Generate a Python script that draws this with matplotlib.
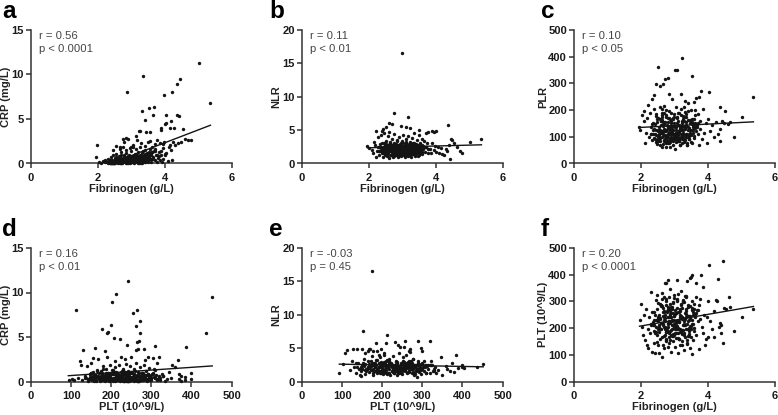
import matplotlib
matplotlib.use("Agg")
import matplotlib.pyplot as plt

plt.rcParams['font.family'] = ['Liberation Sans', 'DejaVu Sans']

# values, ten per row
a_x = [5.03, 3.35, 4.45, 4.37, 4.23, 2.88, 3.98, 5.37, 3.68, 3.52,
       3.33, 3.66, 4.37, 4.42, 4.03, 4.18, 3.4, 4.05, 4.0, 3.9,
       4.17, 4.28, 4.55, 3.9, 3.25, 3.22, 3.45, 3.55, 3.15, 2.75,
       2.85, 2.9, 3.55, 1.98, 1.95, 4.8, 4.7, 4.62, 4.48, 4.4,
       4.32, 4.25, 4.12, 4.2, 4.05, 3.95, 3.85, 3.78, 3.7, 3.62,
       3.5, 3.42, 3.3, 3.18, 3.05, 2.98, 2.78, 2.65, 2.55, 2.45,
       4.1, 4.22, 3.92, 3.88, 4.02, 3.98, 4.15, 3.82, 3.72, 3.95,
       2.02, 2.1, 2.15, 2.2, 2.22, 2.28, 2.3, 2.35, 2.38, 2.4,
       2.42, 2.45, 2.48, 2.5, 2.52, 2.55, 2.58, 2.6, 2.62, 2.65,
       2.68, 2.7, 2.72, 2.75, 2.78, 2.8, 2.82, 2.85, 2.88, 2.9,
       2.92, 2.95, 2.98, 3.0, 3.02, 3.05, 3.08, 3.1, 3.12, 3.15,
       3.18, 3.2, 3.22, 3.25, 3.28, 3.3, 3.32, 3.35, 3.38, 3.4,
       3.42, 3.45, 3.48, 3.5, 3.52, 3.55, 3.58, 3.6, 3.65, 3.7,
       2.5, 2.55, 2.6, 2.66, 2.7, 2.74, 2.8, 2.84, 2.9, 2.94,
       3.0, 3.04, 3.1, 3.14, 3.2, 3.24, 3.3, 3.34, 3.4, 3.44,
       2.36, 2.44, 2.52, 2.62, 2.72, 2.86, 2.96, 3.06, 3.16, 3.26,
       2.6, 2.7, 2.8, 2.9, 3.0, 3.1, 3.2, 3.3, 3.4, 3.5,
       2.65, 2.75, 2.85, 2.95, 3.05, 3.15, 3.25, 3.35, 3.45, 3.6,
       3.75, 3.8, 3.85, 3.9, 3.95, 4.0, 3.76, 3.82, 3.64, 3.56]
a_y = [11.3, 9.8, 9.5, 8.9, 8.0, 8.0, 7.7, 6.8, 6.4, 6.2,
       5.9, 5.5, 5.5, 5.3, 5.4, 4.8, 4.9, 4.5, 4.4, 4.0,
       4.0, 4.0, 3.9, 3.8, 3.7, 3.6, 3.5, 3.5, 3.1, 2.8,
       2.9, 2.7, 2.5, 2.1, 0.7, 2.6, 2.6, 2.7, 2.4, 2.3,
       2.1, 2.4, 1.8, 1.5, 1.2, 2.2, 2.3, 2.6, 2.2, 1.9,
       2.4, 2.0, 2.3, 2.6, 2.1, 1.8, 2.4, 1.9, 2.0, 1.5,
       0.3, 0.35, 0.2, 0.9, 1.1, 2.4, 2.1, 1.3, 1.6, 1.7,
       0.15, 0.1, 0.3, 0.2, 0.4, 0.15, 0.5, 0.25, 0.7, 0.1,
       0.4, 0.9, 0.2, 0.6, 0.3, 1.1, 0.15, 0.5, 0.8, 0.2,
       0.6, 1.3, 0.1, 0.4, 0.9, 0.2, 0.7, 1.2, 0.3, 0.5,
       1.0, 0.15, 0.6, 1.4, 0.3, 0.8, 0.1, 0.5, 1.1, 0.25,
       0.7, 1.3, 0.4, 0.9, 0.15, 0.6, 1.2, 0.3, 0.8, 1.5,
       0.2, 0.6, 1.0, 0.35, 1.3, 0.5, 0.9, 0.2, 0.7, 0.4,
       0.3, 0.7, 0.15, 0.45, 0.9, 0.25, 0.55, 0.1, 0.8, 0.35,
       0.6, 0.2, 0.4, 0.75, 0.1, 0.5, 0.3, 0.7, 0.2, 0.55,
       0.35, 0.15, 0.35, 0.3, 0.2, 0.35, 0.25, 0.35, 0.2, 0.45,
       0.1, 0.2, 0.3, 0.1, 0.2, 0.3, 0.2, 0.1, 0.35, 0.15,
       1.6, 1.8, 1.5, 1.7, 1.9, 1.6, 1.8, 1.4, 1.1, 1.2,
       1.0, 0.6, 0.4, 1.4, 0.5, 0.9, 0.2, 0.8, 0.5, 1.6]

b_x = [3.0, 2.75, 3.18, 4.38, 2.7, 2.95, 2.52, 2.42, 2.6, 3.22,
       2.22, 2.4, 2.6, 3.1, 3.5, 3.88, 4.0, 3.95, 3.78, 3.72,
       5.37, 5.03, 4.45, 4.5, 4.4, 4.55, 4.65, 4.72, 4.8, 4.42,
       2.0, 1.96, 2.08, 2.12, 2.15, 2.18, 2.2, 2.24, 2.26, 2.3,
       2.32, 2.35, 2.38, 2.4, 2.42, 2.44, 2.46, 2.5, 2.52, 2.54,
       2.56, 2.58, 2.6, 2.62, 2.64, 2.66, 2.68, 2.7, 2.72, 2.74,
       2.76, 2.78, 2.8, 2.82, 2.84, 2.86, 2.88, 2.9, 2.92, 2.94,
       2.96, 2.98, 3.0, 3.02, 3.04, 3.06, 3.08, 3.1, 3.12, 3.14,
       3.16, 3.18, 3.2, 3.22, 3.24, 3.26, 3.28, 3.3, 3.32, 3.34,
       3.36, 3.38, 3.4, 3.42, 3.44, 3.46, 3.48, 3.5, 3.52, 3.54,
       3.56, 3.58, 3.6, 3.62, 3.65, 3.68, 3.7, 3.74, 3.78, 3.82,
       3.86, 3.9, 3.94, 3.98, 4.02, 4.06, 4.1, 4.15, 4.2, 4.25,
       4.3, 4.35, 2.45, 2.55, 2.65, 2.75, 2.85, 2.95, 3.05, 3.15,
       3.25, 3.35, 3.45, 2.5, 2.6, 2.7, 2.8, 2.9, 3.0, 3.1,
       3.2, 3.3, 3.4, 2.48, 2.58, 2.68, 2.78, 2.88, 2.98, 3.08,
       3.18, 3.28, 3.38, 2.62, 2.72, 2.82, 2.92, 3.02, 3.12, 3.22,
       2.66, 2.76, 2.86, 2.96, 3.06, 3.16, 3.26, 3.36, 2.33, 2.28]
b_y = [16.6, 7.6, 7.0, 5.8, 5.9, 5.6, 5.4, 5.2, 6.0, 5.3,
       4.8, 4.9, 4.7, 5.4, 5.0, 4.8, 4.9, 4.7, 4.7, 4.5,
       3.6, 3.2, 3.6, 3.5, 2.7, 3.0, 2.5, 1.9, 1.6, 0.7,
       2.3, 2.6, 2.0, 1.5, 3.2, 2.8, 1.0, 1.9, 3.9, 1.3,
       2.5, 4.2, 1.7, 3.0, 0.9, 4.6, 2.2, 1.4, 3.4, 1.1,
       2.6, 4.1, 0.8, 1.9, 3.1, 1.3, 2.4, 3.7, 1.0, 2.0,
       4.4, 1.5, 2.8, 1.2, 3.5, 0.9, 2.2, 4.0, 1.6, 2.9,
       1.1, 3.3, 1.9, 4.3, 1.3, 2.5, 0.9, 3.6, 1.7, 2.8,
       1.2, 4.1, 2.1, 1.5, 3.2, 1.0, 2.6, 3.8, 1.4, 2.2,
       4.5, 1.2, 2.9, 1.7, 3.5, 1.1, 2.4, 4.2, 1.5, 3.0,
       1.9, 3.7, 1.4, 2.6, 3.3, 1.7, 2.4, 3.0, 1.6, 2.2,
       1.5, 3.1, 2.0, 2.6, 1.7, 2.4, 1.6, 2.3, 1.4, 1.2,
       2.1, 1.8, 2.2, 1.6, 2.0, 2.4, 1.7, 2.1, 1.5, 2.3,
       1.9, 1.6, 2.0, 2.8, 2.4, 2.7, 1.6, 2.2, 2.6, 1.8,
       2.9, 2.3, 2.6, 1.9, 1.6, 1.8, 2.1, 1.5, 1.9, 2.2,
       1.7, 2.0, 1.4, 3.0, 2.5, 2.9, 2.6, 2.2, 3.1, 2.7,
       2.2, 1.9, 2.4, 2.0, 2.3, 1.9, 2.3, 2.5, 2.9, 2.5]

c_x = [3.22, 2.52, 3.02, 3.08, 3.52, 2.82, 2.72, 2.45, 2.58, 2.66,
       3.8, 4.03, 5.37, 4.38, 4.52, 5.03, 4.8, 3.75, 3.2, 2.4,
       2.85, 2.92, 2.32, 2.2, 2.08, 2.02, 1.96, 1.98, 2.1, 2.15,
       2.12, 2.18, 2.24, 2.28, 2.3, 2.34, 2.36, 2.38, 2.42, 2.44,
       2.46, 2.48, 2.5, 2.54, 2.56, 2.58, 2.6, 2.62, 2.64, 2.66,
       2.68, 2.7, 2.72, 2.74, 2.76, 2.78, 2.8, 2.82, 2.84, 2.86,
       2.88, 2.9, 2.92, 2.94, 2.96, 2.98, 3.0, 3.02, 3.04, 3.06,
       3.08, 3.1, 3.12, 3.14, 3.16, 3.18, 3.2, 3.22, 3.24, 3.26,
       3.28, 3.3, 3.32, 3.34, 3.36, 3.38, 3.4, 3.42, 3.44, 3.46,
       3.48, 3.5, 3.52, 3.54, 3.56, 3.58, 3.6, 3.62, 3.64, 3.68,
       3.7, 3.74, 3.78, 3.82, 3.86, 3.9, 3.94, 3.98, 4.02, 4.08,
       4.14, 4.2, 4.26, 4.32, 4.38, 4.44, 4.5, 4.6, 4.66, 4.36,
       3.6, 3.66, 3.72, 3.62, 3.52, 3.42, 3.32, 2.62, 2.68, 2.64,
       2.7, 2.74, 2.78, 2.82, 2.86, 2.9, 2.94, 2.98, 3.02, 3.06,
       3.1, 3.14, 3.18, 3.22, 3.26, 3.3, 3.34, 2.76, 2.8, 2.84,
       2.88, 2.92, 2.96, 3.0, 3.04, 3.08, 3.12, 3.16, 3.2, 3.24,
       2.5, 2.54, 2.58, 2.62, 2.66, 2.7, 2.74, 2.78, 3.28, 3.32]
c_y = [397, 362, 351, 349, 328, 320, 318, 297, 292, 296,
       272, 268, 248, 212, 196, 173, 100, 68, 262, 256,
       262, 240, 240, 218, 195, 180, 135, 125, 160, 115,
       78, 170, 98, 190, 135, 88, 150, 205, 110, 185,
       80, 165, 125, 100, 210, 70, 145, 60, 175, 120,
       215, 88, 155, 62, 200, 105, 135, 75, 170, 60,
       115, 190, 95, 140, 68, 175, 110, 55, 210, 125,
       85, 160, 105, 190, 70, 130, 205, 90, 150, 115,
       80, 210, 135, 100, 175, 70, 125, 195, 90, 150,
       110, 200, 78, 165, 125, 230, 95, 180, 245, 135,
       110, 248, 160, 90, 205, 115, 150, 75, 165, 120,
       145, 100, 155, 110, 85, 160, 150, 148, 155, 130,
       140, 120, 185, 200, 148, 225, 235, 205, 190, 100,
       125, 95, 145, 110, 130, 90, 120, 150, 100, 135,
       115, 145, 95, 125, 105, 140, 110, 120, 105, 130,
       95, 110, 125, 100, 140, 115, 95, 125, 110, 135,
       85, 135, 95, 120, 140, 105, 125, 85, 160, 140]

d_x = [243, 452, 213, 203, 255, 113, 264, 272, 200, 262,
       178, 192, 190, 437, 207, 221, 273, 270, 265, 160,
       386, 130, 185, 240, 310, 283, 268, 262, 305, 293,
       366, 352, 122, 125, 140, 155, 150, 168, 190, 210,
       225, 235, 250, 285, 320, 315, 345, 360, 370, 375,
       385, 400, 398, 384, 375, 368, 350, 340, 335, 330,
       102, 108, 95, 118, 128, 135, 142, 146, 148, 152,
       155, 158, 160, 163, 165, 168, 170, 172, 175, 178,
       180, 182, 185, 188, 190, 192, 195, 198, 200, 202,
       205, 208, 210, 212, 215, 218, 220, 222, 225, 228,
       230, 232, 235, 238, 240, 242, 245, 248, 250, 252,
       255, 258, 260, 262, 265, 268, 270, 272, 275, 278,
       280, 282, 285, 288, 290, 292, 295, 298, 300, 303,
       306, 310, 314, 318, 322, 170, 180, 190, 200, 210,
       220, 230, 240, 250, 260, 270, 280, 175, 185, 195,
       205, 215, 225, 235, 245, 255, 265, 275, 285, 295,
       160, 150, 145, 215, 228, 242, 256, 268, 280, 296,
       198, 208, 218, 232, 238, 248, 258, 176, 186, 300]
d_y = [11.3, 9.5, 9.8, 8.9, 7.7, 8.0, 8.0, 6.8, 6.4, 6.2,
       5.9, 5.6, 5.5, 5.4, 4.9, 4.8, 5.4, 4.6, 4.4, 3.8,
       3.9, 3.5, 3.4, 4.1, 4.0, 3.7, 3.6, 3.5, 2.6, 2.8,
       2.4, 1.9, 2.3, 1.9, 1.7, 2.6, 2.1, 2.5, 2.7, 2.3,
       2.8, 2.5, 2.7, 2.4, 2.7, 2.1, 1.1, 1.6, 0.8, 0.6,
       0.5, 0.9, 0.25, 0.15, 0.1, 0.3, 0.4, 0.3, 0.1, 0.6,
       0.3, 0.15, 0.2, 0.4, 0.2, 0.6, 0.3, 0.8, 0.5, 0.15,
       1.1, 0.4, 0.7, 0.2, 1.3, 0.5, 0.9, 0.1, 1.2, 0.4,
       1.7, 0.2, 0.7, 1.4, 0.3, 1.0, 0.5, 1.9, 0.2, 0.8,
       1.3, 0.4, 1.6, 0.15, 0.9, 0.5, 1.8, 0.3, 1.1, 0.6,
       1.4, 0.2, 0.8, 2.0, 0.4, 1.2, 0.6, 1.7, 0.15, 0.9,
       0.5, 1.4, 0.25, 2.1, 0.7, 1.1, 0.3, 1.6, 0.5, 0.9,
       0.2, 1.9, 0.6, 1.2, 0.3, 0.8, 1.5, 0.4, 0.15, 0.9,
       0.5, 1.3, 0.3, 0.6, 0.2, 0.3, 0.15, 0.4, 0.25, 0.1,
       0.35, 0.2, 0.45, 0.15, 0.3, 0.1, 0.4, 0.6, 0.5, 0.7,
       0.4, 0.6, 0.7, 0.5, 0.65, 0.4, 0.6, 0.5, 0.7, 0.3,
       0.45, 0.9, 0.25, 1.0, 0.9, 1.0, 0.85, 0.6, 0.8, 0.15,
       1.0, 0.9, 0.75, 0.85, 0.2, 1.0, 0.1, 0.85, 0.95, 0.4]

e_x = [175, 153, 212, 256, 290, 318, 232, 240, 185, 210,
       255, 296, 300, 270, 245, 268, 166, 150, 385, 347,
       452, 437, 400, 398, 388, 375, 368, 360, 350, 340,
       335, 325, 92, 102, 108, 112, 128, 138, 148, 150,
       158, 165, 170, 178, 187, 192, 198, 205, 120, 125,
       130, 135, 140, 145, 150, 154, 158, 162, 165, 168,
       172, 175, 178, 180, 183, 186, 188, 191, 194, 197,
       199, 202, 205, 207, 210, 213, 215, 218, 220, 223,
       225, 228, 230, 233, 235, 238, 240, 243, 245, 248,
       250, 253, 255, 258, 260, 263, 265, 268, 270, 273,
       275, 278, 280, 283, 285, 288, 290, 293, 295, 298,
       300, 303, 306, 310, 314, 318, 322, 328, 332, 200,
       208, 216, 224, 232, 240, 248, 256, 264, 272, 280,
       204, 212, 220, 228, 236, 244, 252, 260, 268, 276,
       230, 238, 246, 254, 262, 222, 234, 242, 250, 258,
       266, 274, 284, 192, 182, 176, 168, 405, 380, 362]
e_y = [16.6, 7.6, 7.0, 6.1, 6.0, 6.1, 5.9, 5.4, 5.8, 5.7,
       5.2, 5.0, 4.6, 4.9, 5.2, 4.5, 4.8, 4.9, 4.0, 3.7,
       2.6, 2.1, 2.4, 2.1, 2.0, 2.8, 1.6, 2.3, 1.0, 1.7,
       1.2, 2.4, 1.3, 2.6, 4.3, 4.7, 4.9, 4.9, 0.8, 1.8,
       4.3, 4.6, 4.8, 4.5, 4.6, 4.0, 4.9, 4.3, 1.7, 3.0,
       2.1, 1.3, 2.8, 1.0, 2.4, 3.4, 1.1, 1.9, 3.1, 1.4,
       2.3, 3.8, 1.0, 2.7, 1.6, 3.2, 1.2, 2.2, 3.6, 1.5,
       2.6, 1.1, 3.9, 1.8, 3.0, 1.3, 2.2, 3.4, 1.0, 2.6,
       1.5, 3.8, 1.2, 2.4, 3.1, 1.0, 2.0, 4.2, 1.4, 2.8,
       1.1, 3.6, 1.7, 2.4, 4.0, 1.2, 2.9, 1.6, 4.4, 2.2,
       1.3, 3.3, 0.9, 2.5, 1.6, 0.6, 3.1, 1.4, 2.2, 1.1,
       2.8, 1.6, 2.1, 1.3, 2.5, 1.2, 2.4, 1.6, 2.1, 2.0,
       2.4, 1.8, 2.3, 1.6, 2.1, 2.6, 1.7, 2.3, 1.9, 2.5,
       2.9, 2.2, 2.7, 1.9, 2.8, 2.3, 2.9, 2.4, 2.7, 2.1,
       2.0, 2.5, 1.8, 2.2, 2.6, 2.3, 2.9, 2.2, 2.7, 1.9,
       2.1, 2.8, 2.0, 2.2, 2.8, 2.4, 2.0, 2.0, 1.4, 1.9]

f_x = [4.45, 4.05, 4.32, 3.48, 3.52, 3.8, 2.82, 3.08, 2.72, 3.38,
       2.75, 3.5, 3.65, 3.85, 4.65, 5.37, 5.03, 4.8, 4.45, 3.52,
       3.75, 3.92, 4.0, 4.2, 4.25, 4.38, 4.5, 4.55, 4.68, 4.4,
       1.98, 2.0, 2.02, 2.05, 2.1, 2.12, 2.15, 2.18, 2.2, 2.22,
       2.25, 2.28, 2.3, 2.32, 2.35, 2.38, 2.4, 2.42, 2.45, 2.48,
       2.5, 2.52, 2.55, 2.58, 2.6, 2.62, 2.64, 2.66, 2.68, 2.7,
       2.72, 2.74, 2.76, 2.78, 2.8, 2.82, 2.84, 2.86, 2.88, 2.9,
       2.92, 2.94, 2.96, 2.98, 3.0, 3.02, 3.04, 3.06, 3.08, 3.1,
       3.12, 3.14, 3.16, 3.18, 3.2, 3.22, 3.24, 3.26, 3.28, 3.3,
       3.32, 3.34, 3.36, 3.38, 3.4, 3.42, 3.44, 3.46, 3.48, 3.5,
       3.52, 3.54, 3.56, 3.58, 3.6, 3.62, 3.64, 3.66, 3.7, 3.74,
       3.78, 3.82, 3.86, 3.9, 3.94, 3.98, 4.02, 4.08, 4.14, 4.2,
       4.28, 4.34, 4.4, 2.4, 2.5, 2.6, 2.7, 2.8, 2.9, 3.0,
       3.1, 3.2, 3.3, 3.4, 2.55, 2.65, 2.75, 2.85, 2.95, 3.05,
       3.15, 3.25, 3.35, 3.45, 2.62, 2.72, 2.82, 2.92, 3.02, 3.12,
       3.22, 3.32, 2.68, 2.78, 2.88, 2.98, 3.08, 3.18, 3.28, 3.44]
f_y = [450, 436, 385, 388, 400, 398, 380, 382, 368, 375,
       370, 392, 370, 355, 318, 272, 243, 190, 143, 102,
       122, 135, 165, 165, 305, 220, 275, 270, 278, 210,
       232, 292, 205, 175, 250, 155, 270, 135, 195, 125,
       240, 180, 335, 110, 215, 145, 262, 105, 185, 325,
       135, 235, 105, 195, 285, 92, 165, 245, 315, 125,
       205, 300, 155, 265, 128, 220, 180, 345, 240, 110,
       195, 280, 150, 325, 215, 130, 255, 180, 310, 108,
       225, 160, 270, 195, 340, 135, 235, 305, 175, 118,
       255, 195, 320, 145, 225, 280, 170, 125, 245, 195,
       300, 215, 155, 270, 190, 240, 315, 175, 225, 285,
       310, 205, 180, 250, 160, 240, 300, 225, 195, 265,
       300, 205, 180, 210, 240, 195, 260, 215, 175, 245,
       200, 285, 225, 170, 250, 215, 185, 270, 230, 195,
       260, 210, 240, 190, 220, 250, 205, 270, 225, 195,
       240, 210, 230, 260, 190, 245, 225, 265, 210, 230]

# the crowded middle of the clouds
core_fib = [2.31, 3.12, 2.78, 3.41, 2.56, 2.93, 3.27, 2.68, 3.55, 2.84,
            3.03, 2.47, 3.18, 2.72, 3.36, 2.61, 2.97, 3.49, 2.39, 3.08,
            2.88, 3.22, 2.52, 3.63, 2.76, 3.01, 2.66, 3.31, 2.91, 3.44,
            2.58, 3.14, 2.82, 3.58, 2.43, 2.99, 3.25, 2.71, 3.38, 2.86,
            3.06, 2.64, 3.17, 2.94, 3.52, 2.49, 2.81, 3.29, 2.74, 3.11,
            2.35, 3.42, 2.89, 3.04, 2.62, 3.21, 2.79, 3.67, 2.54, 2.96,
            3.33, 2.69, 3.09, 2.87, 3.47, 2.41, 3.19, 2.77, 3.02, 3.39,
            2.59, 2.92, 3.26, 2.67, 3.56, 2.83, 3.13, 2.45, 3.35, 2.98,
            2.73, 3.07, 3.61, 2.51, 2.9, 3.23, 2.63, 3.46, 2.85, 3.16,
            2.37, 3.0, 2.75, 3.34, 2.57, 3.1, 2.95, 3.5, 2.7, 3.28,
            2.8, 3.43, 2.44, 3.15, 2.65, 3.05, 3.37, 2.6, 2.97, 3.2,
            3.72, 2.53, 3.3, 2.86, 3.54, 2.33, 2.78, 3.11, 2.93, 3.4,
            2.48, 3.24, 2.72, 3.02, 3.6, 2.55, 2.88, 3.17, 2.68, 3.48,
            3.78, 2.4, 3.08, 2.82, 3.32, 2.62, 2.99, 3.57, 2.76, 3.13,
            2.5, 3.22, 2.91, 3.45, 2.66, 3.04, 2.84, 3.36, 2.58, 3.19,
            3.65, 2.29, 2.95, 3.27, 2.74, 3.07, 3.52, 2.46, 2.87, 3.15]
core_crp = [0.1, 0.5, 0.3, 0.9, 0.15, 0.4, 0.7, 0.2, 1.1, 0.35,
            0.6, 0.1, 0.45, 0.25, 0.8, 0.2, 0.55, 1.0, 0.1, 0.65,
            0.3, 0.75, 0.15, 1.3, 0.4, 0.5, 0.1, 0.85, 0.25, 1.05,
            0.2, 0.6, 0.35, 0.95, 0.05, 0.7, 0.4, 0.15, 0.6, 0.5,
            0.3, 0.2, 0.85, 0.45, 1.2, 0.1, 0.6, 0.35, 0.25, 0.7,
            0.1, 0.9, 0.2, 0.55, 0.3, 0.4, 0.75, 1.4, 0.15, 0.35,
            0.65, 0.1, 0.8, 0.45, 1.15, 0.05, 0.3, 0.5, 0.7, 0.4,
            0.2, 0.6, 0.25, 0.35, 0.9, 0.15, 0.55, 0.1, 0.75, 0.45,
            0.3, 0.65, 1.25, 0.1, 0.5, 0.2, 0.4, 0.95, 0.6, 0.35,
            0.05, 0.45, 0.2, 0.7, 0.3, 0.55, 0.15, 1.0, 0.4, 0.25,
            0.5, 0.85, 0.1, 0.65, 0.2, 0.35, 0.6, 0.15, 0.75, 0.45,
            1.35, 0.25, 0.55, 0.1, 0.8, 0.15, 0.4, 0.25, 0.6, 1.1,
            0.1, 0.7, 0.3, 0.15, 0.5, 0.35, 0.2, 0.9, 0.05, 0.65,
            0.95, 0.2, 0.4, 0.65, 0.1, 0.5, 0.25, 1.2, 0.15, 0.8,
            0.3, 0.1, 0.55, 0.75, 0.35, 0.15, 0.45, 0.3, 0.6, 0.2,
            0.5, 0.2, 0.1, 0.85, 0.4, 0.3, 0.65, 0.25, 0.5, 0.95]
core_nlr = [1.8, 2.3, 1.5, 2.6, 2.1, 1.2, 2.9, 1.7, 2.4, 2.0,
            1.4, 2.7, 2.2, 1.6, 3.0, 1.9, 2.5, 1.3, 2.3, 1.8,
            2.8, 1.5, 2.1, 2.4, 1.1, 2.6, 1.9, 3.1, 1.6, 2.2,
            1.3, 2.0, 2.7, 1.7, 2.4, 1.5, 2.9, 2.2, 1.4, 2.5,
            1.8, 3.2, 1.6, 2.1, 2.6, 1.2, 2.3, 1.9, 2.8, 1.5,
            2.0, 1.7, 2.4, 1.3, 2.9, 2.2, 1.6, 2.5, 1.8, 3.0,
            2.1, 1.4, 2.6, 1.9, 2.2, 1.5, 2.8, 1.7, 2.3, 1.1,
            2.7, 2.0, 1.6, 2.4, 1.8, 3.3, 1.3, 2.1, 2.6, 1.9,
            1.5, 2.9, 2.2, 1.7, 2.5, 1.2, 2.0, 2.7, 1.4, 2.3,
            1.9, 3.1, 1.6, 2.4, 2.1, 1.3, 2.8, 1.8, 2.2, 1.5,
            2.6, 1.7, 3.0, 2.0, 1.2, 2.4, 1.9, 2.7, 1.5, 2.2,
            2.5, 1.8, 2.9, 1.3, 2.1, 2.4, 1.6, 3.2, 1.9, 2.3,
            1.4, 2.6, 2.0, 1.7, 2.8, 1.5, 2.3, 1.1, 2.5, 1.9,
            2.1, 1.6, 3.0, 2.2, 1.4, 2.7, 1.8, 2.4, 1.3, 2.0,
            2.9, 1.7, 2.2, 1.5, 2.6, 1.9, 1.2, 2.3, 2.8, 1.6,
            2.4, 1.9, 1.4, 2.1, 3.1, 1.7, 2.5, 1.8, 2.2, 1.3]
core_plr = [112, 145, 98, 162, 125, 88, 178, 105, 135, 118,
            92, 155, 128, 102, 185, 115, 142, 82, 130, 108,
            168, 95, 122, 150, 75, 138, 110, 192, 100, 132,
            85, 120, 172, 104, 148, 90, 165, 126, 78, 140,
            116, 182, 96, 128, 155, 72, 134, 106, 175, 94,
            124, 101, 158, 80, 188, 136, 98, 146, 112, 170,
            130, 86, 152, 109, 125, 92, 180, 103, 140, 68,
            160, 118, 97, 143, 114, 195, 84, 127, 156, 107,
            93, 172, 133, 100, 150, 76, 119, 164, 88, 138,
            111, 186, 96, 145, 123, 83, 168, 105, 131, 91,
            154, 102, 178, 117, 74, 141, 110, 160, 94, 129,
            152, 108, 174, 81, 126, 147, 99, 190, 113, 137,
            87, 158, 120, 103, 166, 95, 139, 70, 149, 115,
            128, 97, 176, 132, 89, 162, 106, 144, 82, 121,
            170, 101, 135, 92, 156, 116, 77, 139, 167, 98,
            146, 112, 86, 125, 183, 104, 151, 108, 133, 84]
core_plt = [215, 262, 188, 285, 236, 172, 302, 205, 248, 226,
            182, 272, 241, 195, 315, 219, 258, 165, 232, 208,
            291, 178, 228, 254, 152, 268, 212, 322, 192, 244,
            160, 222, 280, 200, 250, 175, 296, 238, 156, 264,
            206, 330, 185, 231, 274, 148, 242, 216, 288, 180,
            224, 198, 256, 162, 308, 246, 190, 266, 210, 298,
            234, 170, 276, 218, 239, 183, 290, 202, 252, 142,
            282, 226, 193, 260, 214, 318, 158, 229, 270, 204,
            176, 300, 245, 196, 278, 150, 220, 284, 168, 249,
            211, 312, 186, 263, 233, 164, 294, 207, 240, 181,
            272, 199, 306, 225, 138, 255, 217, 286, 177, 237,
            268, 203, 299, 155, 230, 259, 191, 326, 213, 247,
            173, 277, 227, 197, 292, 184, 251, 135, 265, 209,
            235, 189, 304, 243, 167, 281, 201, 261, 159, 223,
            295, 194, 240, 179, 275, 218, 146, 253, 289, 187,
            257, 212, 171, 236, 310, 198, 269, 205, 244, 161]

a_line_x, a_line_y = [2.42, 5.37], [0.05, 4.3]
b_line_x, b_line_y = [1.96, 5.37], [2.35, 2.8]
c_line_x, c_line_y = [1.96, 5.37], [135, 156]
d_line_x, d_line_y = [93, 452], [0.65, 1.75]
e_line_x, e_line_y = [93, 452], [2.6, 2.2]
f_line_x, f_line_y = [1.96, 5.37], [207, 281]

FIB = "Fibrinogen (g/L)"
PLT = "PLT (10^9/L)"


def draw_panel(left, top, letter, letter_x, x, y, line_x, line_y, xlab, ylab, ylab_x,
               xmax, xstep, ymax, ystep, note1, note2):
    # pixel box of the axis lines, converted to figure fractions
    ax = fig.add_axes([left / 778, (415 - top - 133.5) / 415, 200.5 / 778, 133.5 / 415])
    ax.scatter(x, y, s=6, c="#141414", linewidths=0, clip_on=False, zorder=3)
    ax.plot(line_x, line_y, color="#141414", lw=1.0, zorder=4)
    ax.set_xlim(0, xmax)
    ax.set_ylim(0, ymax)
    ax.set_xticks(range(0, xmax + 1, xstep))
    ax.set_yticks(range(0, ymax + 1, ystep))
    ax.spines["top"].set_visible(False)
    ax.spines["right"].set_visible(False)
    ax.spines["left"].set_linewidth(1.1)
    ax.spines["bottom"].set_linewidth(1.1)
    ax.spines["left"].set_color("#333333")
    ax.spines["bottom"].set_color("#333333")
    ax.tick_params(length=3.5, width=1.1, color="#333333", pad=1.5, labelsize=8, labelcolor="#1a1a1a")
    ax.tick_params(axis="x", pad=3.5)
    for t in ax.get_xticklabels() + ax.get_yticklabels():
        t.set_fontweight("bold")
    ax.set_xlabel(xlab, fontsize=8, fontweight="bold", color="#222222", va="center")
    ax.set_ylabel(ylab, fontsize=8, fontweight="bold", color="#222222", va="center")
    ax.xaxis.set_label_coords(0.5, -0.19)
    ax.yaxis.set_label_coords((ylab_x - left) / 200.5, 0.5)
    ax.text(0.042, 0.955, note1, transform=ax.transAxes, fontsize=8.1, color="#444444", va="center")
    ax.text(0.042, 0.86, note2, transform=ax.transAxes, fontsize=8.1, color="#444444", va="center")
    fig.text(letter_x / 778, 1 - (top - 12) / 415, letter, fontsize=17.5, fontweight="bold",
             color="black", va="baseline")


fig = plt.figure(figsize=(7.78, 4.15), dpi=100)

# reversed so the crowded platelet values do not line up with the NLR ones
core_plt_e = core_plt[::-1]

draw_panel(31, 30, "a", 2, a_x + core_fib, a_y + core_crp, a_line_x, a_line_y, FIB, "CRP (mg/L)", 6,
           6, 2, 15, 5, "r = 0.56", "p < 0.0001")
draw_panel(302, 30, "b", 269, b_x + core_fib, b_y + core_nlr, b_line_x, b_line_y, FIB, "NLR", 276,
           6, 2, 20, 5, "r = 0.11", "p < 0.01")
draw_panel(574, 30, "c", 541, c_x + core_fib, c_y + core_plr, c_line_x, c_line_y, FIB, "PLR", 543,
           6, 2, 500, 100, "r = 0.10", "p < 0.05")
draw_panel(31, 248, "d", 2, d_x + core_plt_e, d_y + core_crp, d_line_x, d_line_y, PLT, "CRP (mg/L)", 6,
           500, 100, 15, 5, "r = 0.16", "p < 0.01")
draw_panel(302, 248, "e", 269, e_x + core_plt_e, e_y + core_nlr, e_line_x, e_line_y, PLT, "NLR", 276,
           500, 100, 20, 5, "r = -0.03", "p = 0.45")
draw_panel(574, 248, "f", 541, f_x + core_fib, f_y + core_plt, f_line_x, f_line_y, FIB, "PLT (10^9/L)", 543,
           6, 2, 500, 100, "r = 0.20", "p < 0.0001")

fig.savefig("out.png", dpi=100)
plt.close(fig)
